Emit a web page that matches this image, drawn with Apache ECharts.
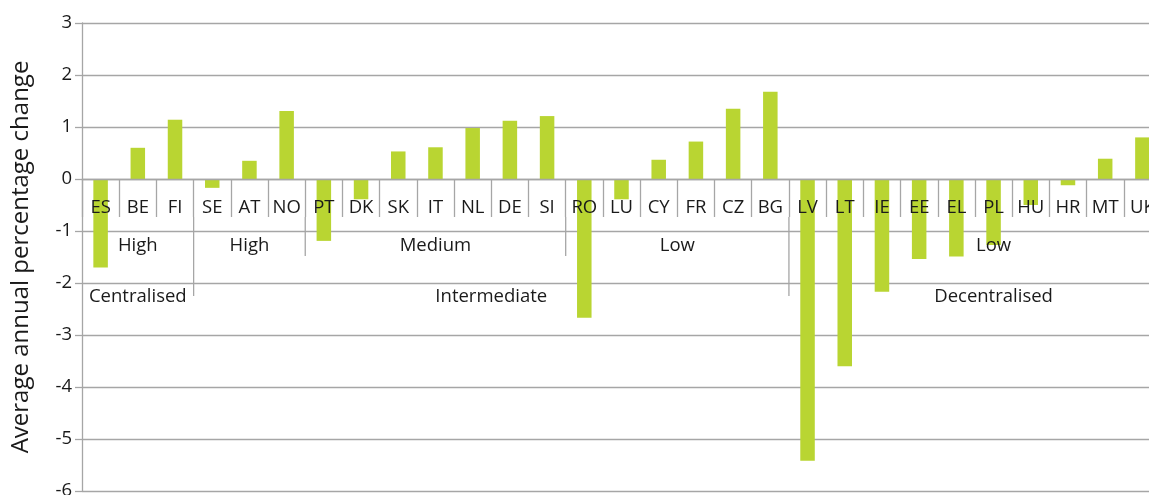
<!DOCTYPE html>
<html>
<head>
<meta charset="utf-8">
<script src="https://cdn.jsdelivr.net/npm/echarts@6/dist/echarts.min.js"></script>
<style>
html,body{margin:0;padding:0;background:#fff;}
#chart{width:1149px;height:495px;}
</style>
</head>
<body>
<div id="chart"></div>
<script>
// ---- data ----
const countries = ['ES','BE','FI','SE','AT','NO','PT','DK','SK','IT','NL','DE','SI','RO','LU','CY','FR','CZ','BG','LV','LT','IE','EE','EL','PL','HU','HR','MT','UK'];
const values = [-1.70,0.60,1.14,-0.17,0.35,1.31,-1.19,-0.39,0.53,0.61,0.98,1.12,1.21,-2.67,-0.39,0.37,0.72,1.35,1.68,-5.42,-3.60,-2.17,-1.54,-1.49,-1.27,-0.50,-0.12,0.39,0.80];
const yTicks = {min:-6, max:3, step:1};
const yAxisTitle = 'Average annual percentage change';
// group level 2 (name, first index, last index exclusive)
const level2Names = ['High','High','Medium','Low','Low'];
const level2Start = [0,3,6,13,19];
const level2End = [3,6,13,19,29];
// group level 3
const level3Names = ['Centralised','Intermediate','Decentralised'];
const level3Start = [0,3,19];
const level3End = [3,19,29];

const FONT = '"Open Sans", "Noto Sans", sans-serif';
const TXT = '#1a1a1a';
const GRID = '#a6a6a6';
const FS = 18.5;

const chart = echarts.init(document.getElementById('chart'), null, {renderer:'canvas'});
chart.setOption({
  animation:false,
  backgroundColor:'#fff',
  grid:{left:82, top:23, height:468, width:1079, containLabel:false, outerBoundsMode:'none'},
  xAxis:{
    type:'category', data:countries, z:10,
    axisLine:{show:true, onZero:true, lineStyle:{color:GRID, width:1.3}},
    axisTick:{show:true, length:38, lineStyle:{color:GRID, width:1.3}},
    axisLabel:{show:false},
    splitLine:{show:false}
  },
  yAxis:{
    type:'value', min:yTicks.min, max:yTicks.max, interval:yTicks.step,
    name:yAxisTitle, nameLocation:'middle', nameGap:49,
    nameTextStyle:{fontFamily:FONT, fontSize:24, color:TXT},
    axisLine:{show:true, lineStyle:{color:GRID, width:1.3}},
    axisTick:{show:true, length:7, lineStyle:{color:GRID, width:1.3}},
    axisLabel:{fontFamily:FONT, fontSize:FS, color:TXT, margin:10},
    splitLine:{show:true, lineStyle:{color:GRID, width:1.3}}
  },
  series:[{
    type:'bar', data:values, barWidth:'39%',
    itemStyle:{color:'#b9d532'}, z:2
  }]
});

// category labels and group annotations, positioned through the axis scales
function centerX(i){ return chart.convertToPixel({xAxisIndex:0}, i); }
function boundaryX(i){
  const band = centerX(1) - centerX(0);
  return centerX(0) + (i - 0.5) * band;
}
const zeroY = chart.convertToPixel({yAxisIndex:0}, 0);
const tickEnd = zeroY + 38;
const graphics = [];
function addLine(x, y1, y2){
  graphics.push({type:'line', z:20, shape:{x1:x, y1:y1, x2:x, y2:y2}, style:{stroke:GRID, lineWidth:1.3}});
}
function addText(txt, cx, cy){
  graphics.push({type:'text', z:20, x:cx, y:cy, style:{text:txt, fill:TXT, font:FS + 'px ' + FONT, textAlign:'center', textVerticalAlign:'middle'}});
}
countries.forEach((c, i) => addText(c, centerX(i), zeroY + 28.5));
// level 2
for (let g = 0; g < level2Names.length; g++){
  const x0 = boundaryX(level2Start[g]);
  let x1 = boundaryX(level2End[g]);
  if (level2End[g] >= countries.length) x1 = boundaryX(countries.length + 1);
  addText(level2Names[g], (x0 + x1) / 2, zeroY + 67);
  if (level2Start[g] > 0 && level3Start.indexOf(level2Start[g]) < 0) addLine(x0, tickEnd, zeroY + 77);
}
// level 3
for (let g = 0; g < level3Names.length; g++){
  const x0 = boundaryX(level3Start[g]);
  let x1 = boundaryX(level3End[g]);
  if (level3End[g] >= countries.length) x1 = boundaryX(countries.length + 1);
  addText(level3Names[g], (x0 + x1) / 2, zeroY + 118);
  if (level3Start[g] > 0) addLine(x0, tickEnd, zeroY + 117);
}
chart.setOption({graphic:graphics});
</script>
</body>
</html>
